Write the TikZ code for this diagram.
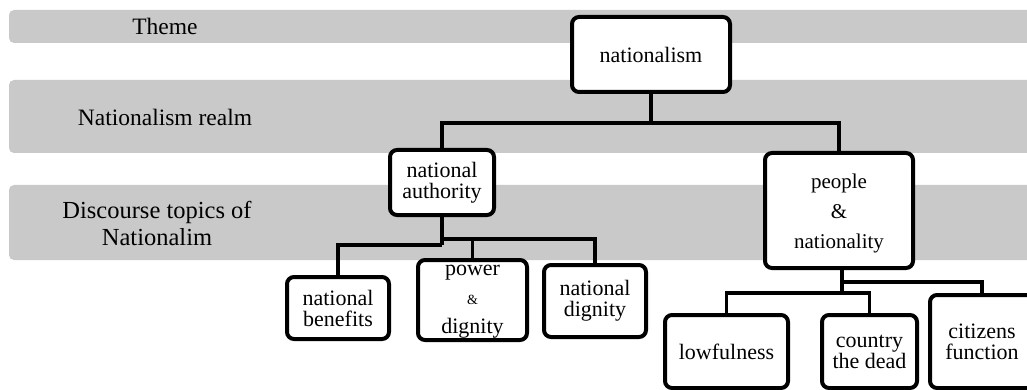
\documentclass[tikz,border=0pt]{standalone}
\usepackage{fontspec}
\setmainfont{Liberation Serif}
\definecolor{band}{HTML}{C9C9C9}
\pgfdeclarelayer{back}
\pgfdeclarelayer{mid}
\pgfsetlayers{back,mid,main}
\begin{document}
\begin{tikzpicture}[x=1pt,y=-1pt,
  bandbox/.style={fill=band,draw=none,rounded corners=5pt},
  lbl/.style={font=\fontsize{23.5}{27}\selectfont,align=center,inner sep=0pt},
  box/.style={draw=black,fill=white,line width=4pt,rounded corners=7pt,
    font=\fontsize{22}{21}\selectfont,align=center,inner sep=0pt},
  conn/.style={draw=black,line width=3.5pt}]
\useasboundingbox (0,0) rectangle (1027,390);
\clip (0,0) rectangle (1027,390);
% bands
\begin{pgfonlayer}{back}
\fill[bandbox] (9,10) rectangle (1045,43);
\fill[bandbox] (9,80) rectangle (1045,153);
\fill[bandbox] (9,185) rectangle (1045,260);
\end{pgfonlayer}
% row labels
\node[lbl] (theme) at (165,26) {Theme};
\node[lbl] (realm) at (165,117) {Nationalism realm};
\node[lbl,font=\fontsize{24.5}{27}\selectfont] (topics) at (157,223) {Discourse topics of\\Nationalim};
% boxes
\node[box,minimum width=158pt,minimum height=75pt] (nat) at (651,54.5) {nationalism};
\node[box,minimum width=104pt,minimum height=65pt] (auth) at (442,182.5) {national\\authority};
\node[box,minimum width=148pt,minimum height=115pt,font=\fontsize{21}{30}\selectfont] (ppl) at (839,210.5) {};
\node[font=\fontsize{21}{30}\selectfont,align=center,inner sep=0pt] (ppltxt) at (839,213.5) {people\\\&\\nationality};
\node[box,minimum width=102pt,minimum height=62pt] (ben) at (338,308) {national\\benefits};
\node[box,minimum width=109pt,minimum height=80pt,font=\fontsize{22}{29}\selectfont] (pow) at (472.5,300) {};
\node[font=\fontsize{22}{29}\selectfont,align=center,inner sep=0pt] (powtxt) at (472.5,302) {power\\{\fontsize{14}{14}\selectfont\&}\\dignity};
\node[box,minimum width=102pt,minimum height=72pt] (dig) at (595,301) {national\\dignity};
\node[box,minimum width=123pt,minimum height=73pt] (low) at (726.5,351.5) {lowfulness};
\node[box,minimum width=95pt,minimum height=73pt] (cou) at (869.5,351.5) {country\\the dead};
\node[box,minimum width=104pt,minimum height=93pt] (cit) at (982,341.5) {citizens\\function};
% connectors
\coordinate (j1) at (651,123);
\coordinate (j2) at (442,239);
\coordinate (j2b) at (442,245);
\coordinate (j3a) at (842,282);
\coordinate (j3) at (842,293);
\begin{pgfonlayer}{mid}
\draw[conn] (nat.south) -- (j1);
\draw[conn] (auth.north) |- (j1) -| (ppl.north);
\draw[conn] (auth.south) -- (j2b);
\draw[conn] (pow.north) |- (j2) -| (dig.north);
\draw[conn] (ben.north) |- (j2b);
\draw[conn] (ppl.south -| j3) -- (j3);
\draw[conn] (cit.north) |- (j3a);
\draw[conn] (low.north) |- (j3) -| (cou.north);
\end{pgfonlayer}
\end{tikzpicture}
\end{document}
